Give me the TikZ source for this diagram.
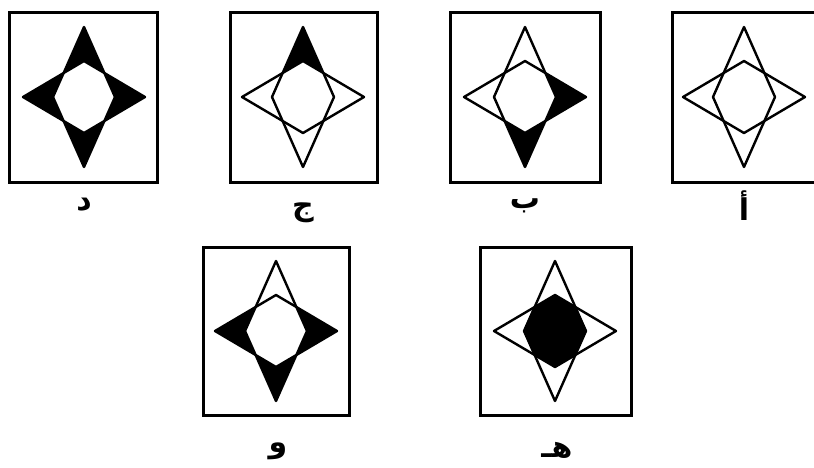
\documentclass[tikz,border=0pt]{standalone}
\usepackage{fontspec}
\usepackage{tikz}
\TeXXeTstate=1
\newfontfamily\arabicfont[Script=Arabic]{DejaVu Sans}

\begin{document}
\begin{tikzpicture}[x=1pt,y=-1pt,
  frame/.style={line width=3pt},
  edge/.style={line width=2.4pt,line join=round},
  tag/.style={font=\arabicfont\bfseries\fontsize{30}{34}\selectfont,anchor=base}]
\useasboundingbox (0,0) rectangle (814,467);
% frames
\draw[frame] (9,12) rectangle (157,182);
\draw[frame] (230,12) rectangle (377,182);
\draw[frame] (450,12) rectangle (600,182);
\draw[frame] (672,12) rectangle (818,182);
\draw[frame] (203,247) rectangle (349,415);
\draw[frame] (480,247) rectangle (631,415);
% stars: a tall rhombus and a wide rhombus in each frame
\foreach \nm/\cx/\cy in {da/84/97,jim/303/97,ba/525/97,alif/744/97,waw/276/331,ha/555/331}{
  \begin{scope}[shift={(\cx,\cy)}]
    \coordinate (\nm-n) at (0,-70);  \coordinate (\nm-s) at (0,70);
    \coordinate (\nm-e) at (61,0);   \coordinate (\nm-w) at (-61,0);
    \coordinate (\nm-on) at (0,-36); \coordinate (\nm-os) at (0,36);
    \coordinate (\nm-oe) at (31,0);  \coordinate (\nm-ow) at (-31,0);
    \coordinate (\nm-ne) at (20.4,-24); \coordinate (\nm-nw) at (-20.4,-24);
    \coordinate (\nm-se) at (20.4,24);  \coordinate (\nm-sw) at (-20.4,24);
  \end{scope}
}
% black points
\foreach \nm/\t/\p/\q in {da/n/nw/ne,da/e/ne/se,da/s/se/sw,da/w/sw/nw,jim/n/nw/ne,ba/e/ne/se,ba/s/se/sw,waw/e/ne/se,waw/s/se/sw,waw/w/sw/nw}
  {\fill (\nm-\t) -- (\nm-\p) -- (\nm-o\t) -- (\nm-\q) -- cycle;}
% black core
\fill (ha-on) -- (ha-ne) -- (ha-oe) -- (ha-se) -- (ha-os) -- (ha-sw) -- (ha-ow) -- (ha-nw) -- cycle;
\foreach \nm in {da,jim,ba,alif,waw,ha}{
  \draw[edge] (\nm-n) -- (\nm-oe) -- (\nm-s) -- (\nm-ow) -- cycle;
  \draw[edge] (\nm-w) -- (\nm-on) -- (\nm-e) -- (\nm-os) -- cycle;
}
% labels
\node[tag] (lda) at (84,210) {\beginR د\endR};
\node[tag] (ljim) at (303,215) {\beginR ج\endR};
\node[tag] (lba) at (525,208) {\beginR ب\endR};
\node[tag] (lalif) at (744,220) {\beginR أ\endR};
\node[tag] (lwaw) at (278,452) {\beginR و\endR};
\node[tag] (lha) at (557,457) {\beginR هـ\endR};
\end{tikzpicture}
\end{document}
